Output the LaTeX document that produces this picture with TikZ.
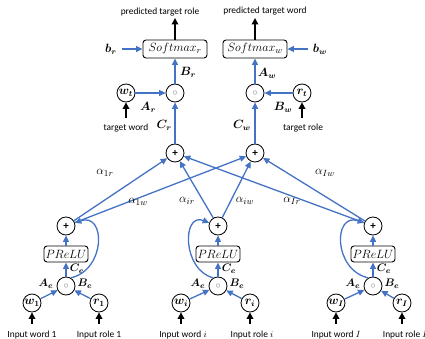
\documentclass[tikz,border=0pt]{standalone}
\usepackage{fontspec}
\usepackage{amsmath}
\usepackage{bm}
\newfontfamily\labfont{Carlito}
\usetikzlibrary{arrows.meta}
\definecolor{ablue}{RGB}{68,114,196}
\tikzset{
 circ/.style={circle,draw=black,line width=0.8pt,fill=white,minimum size=18pt,inner sep=0pt,font=\fontsize{11.5}{12}\selectfont},
 smbox/.style={draw,rounded corners=3pt,line width=0.9pt,minimum width=64pt,minimum height=18pt,inner sep=0pt,font=\fontsize{13}{14}\selectfont},
 prbox/.style={smbox,minimum width=44pt,minimum height=16pt},
 blab/.style={font=\fontsize{12}{13}\selectfont,inner sep=0pt},
 elab/.style={font=\fontsize{11}{12}\selectfont,inner sep=0pt},
 alab/.style={font=\fontsize{12.5}{14}\selectfont,inner sep=0pt},
 ctext/.style={font=\labfont\fontsize{9.4}{10}\selectfont,inner sep=0pt},
 barrow/.style={draw=ablue,line width=1.3pt,-{Triangle[length=6.5pt,width=6pt]}},
 karrow/.style={draw=black,line width=1.9pt,-{Triangle[length=6.5pt,width=6.5pt]}},
}
\newcommand{\odotsym}{{\color{gray}\fontsize{10}{10}\selectfont$\circ$}}
\newcommand{\plussym}{{\labfont\bfseries\fontsize{11}{11}\selectfont +}}
\begin{document}
\begin{tikzpicture}[x=1pt,y=-1pt]
\useasboundingbox (0,0) rectangle (425,339);
% top
\node[ctext] (tr) at (160,12) {predicted target role};
\node[ctext] (tw) at (265,11) {predicted target word};
\node[smbox] (sr) at (175,49) {$Softmax_r$};
\node[smbox] (sw) at (255,49) {$Softmax_w$};
\coordinate (orr) at (175,18);
\coordinate (orw) at (255,18);
\draw[karrow] (sr) -- (orr);
\draw[karrow] (sw) -- (orw);
\node[blab] (br) at (111,49) {$\bm{b}_{\bm{r}}$};
\node[blab] (bw) at (320,49) {$\bm{b}_{\bm{w}}$};
\draw[barrow,shorten <=5pt] (br) -- (sr);
\draw[barrow,shorten <=5pt] (bw) -- (sw);
\node[circ] (odr) at (175,93) {\odotsym};
\node[circ] (odw) at (255,93) {\odotsym};
\node[circ] (wt) at (126,93) {$\bm{w}_{\bm{t}}$};
\node[circ] (rt) at (302,93) {$\bm{r}_{\bm{t}}$};
\draw[barrow] (odr) -- (sr);
\draw[barrow] (odw) -- (sw);
\draw[barrow] (wt) -- (odr);
\draw[barrow] (rt) -- (odw);
\node[blab] (lbr) at (188,72) {$\bm{B}_{\bm{r}}$};
\node[blab] (lar) at (148,107) {$\bm{A}_{\bm{r}}$};
\node[blab] (law) at (267,73) {$\bm{A}_{\bm{w}}$};
\node[blab] (lbw) at (283,107) {$\bm{B}_{\bm{w}}$};
\node[ctext] (twd) at (126,128) {target word};
\node[ctext] (trl) at (303,128) {target role};
\coordinate (wts) at (126,118);
\coordinate (rts) at (302,118);
\draw[karrow] (wts) -- (wt);
\draw[karrow] (rts) -- (rt);
\node[blab,anchor=east] (lcr) at (172,125) {$\bm{C}_{\bm{r}}$};
\node[blab,anchor=east] (lcw) at (251,125) {$\bm{C}_{\bm{w}}$};
\node[circ] (pr) at (175,153) {\plussym};
\node[circ] (pw) at (255,153) {\plussym};
\draw[barrow] (pr) -- (odr);
\draw[barrow] (pw) -- (odw);
% bottom columns
\foreach \n/\x/\wx/\rx/\wl/\rl in {1/66/32/99/1/1, 2/218/181/250/i/i, 3/373/336/402/I/I}{
  \node[circ] (p\n) at (\x,226) {\plussym};
  \node[prbox] (pre\n) at (\x,254) {$PReLU$};
  \node[circ] (e\n) at (\x,286) {\odotsym};
  \node[circ] (w\n) at (\wx,303) {$\bm{w}_{\bm{\wl}}$};
  \node[circ] (r\n) at (\rx,303) {$\bm{r}_{\bm{\rl}}$};
  \draw[barrow] (w\n) -- (e\n);
  \draw[barrow] (r\n) -- (e\n);
  \draw[barrow] (e\n) -- (pre\n);
  \draw[barrow] (pre\n) -- (p\n);
  \coordinate (ws\n) at (\wx,324);
  \coordinate (rs\n) at (\rx,324);
  \draw[karrow] (ws\n) -- (w\n);
  \draw[karrow] (rs\n) -- (r\n);
  \node[elab] (lae\n) at (\x-20,284) {$\bm{A}_{\bm{e}}$};
  \node[elab] (lbe\n) at (\x+19,284) {$\bm{B}_{\bm{e}}$};
  \node[elab] (lce\n) at (\x+11,269) {$\bm{C}_{\bm{e}}$};
  \draw[barrow] (p\n) -- (pr);
  \draw[barrow] (p\n) -- (pw);
}
\node[ctext] (iw1) at (32,335) {Input word 1};
\node[ctext] (ir1) at (99,335) {Input role 1};
\node[ctext] (iw2) at (183,335) {Input word $i$};
\node[ctext] (ir2) at (252,335) {Input role $i$};
\node[ctext] (iw3) at (336,335) {Input word $I$};
\node[ctext] (ir3) at (405,335) {Input role $I$};
% loops
\draw[barrow] (e1.60) .. controls (106,270) and (106,212) .. (p1.20);
\draw[barrow] (e2.120) .. controls (182,270) and (182,212) .. (p2.160);
\draw[barrow] (e3.120) .. controls (333,270) and (333,212) .. (p3.160);
% alpha labels
\node[alab] (a1r) at (105,173) {$\alpha_{1r}$};
\node[alab] (a1w) at (138,202) {$\alpha_{1w}$};
\node[alab] (air) at (187,201) {$\alpha_{ir}$};
\node[alab] (aiw) at (245,201) {$\alpha_{iw}$};
\node[alab] (aIr) at (292,201) {$\alpha_{Ir}$};
\node[alab] (aIw) at (325,173) {$\alpha_{Iw}$};
\end{tikzpicture}
\end{document}
